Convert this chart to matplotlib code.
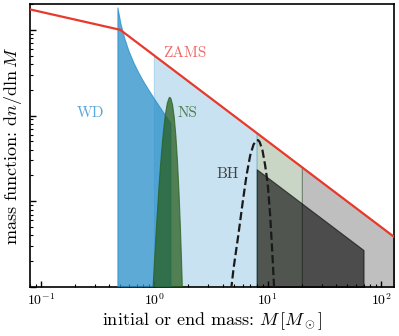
import numpy as np
import matplotlib
matplotlib.use("Agg")
import matplotlib.pyplot as plt

plt.rcParams['font.family'] = 'serif'
plt.rcParams['font.serif'] = ['cmr10']
plt.rcParams['mathtext.fontset'] = 'cm'
plt.rcParams['axes.formatter.use_mathtext'] = True
plt.rcParams['axes.linewidth'] = 1.2

# ---- data ----
zams_M = [0.08, 0.5, 130.0]
zams_y = [173.0, 100.0, 0.385]

wd_M = [0.477, 0.507, 0.550, 0.596, 0.660, 0.730, 0.808, 0.894, 0.990, 1.141, 1.263, 1.398]
wd_y = [180.0, 117.0, 78.1, 56.6, 41.0, 31.3, 24.6, 19.8, 16.0, 12.07, 9.86, 8.11]

ns_M = [0.95, 1.00, 1.05, 1.10, 1.15, 1.20, 1.25, 1.30, 1.35, 1.37, 1.40, 1.45,
        1.50, 1.55, 1.60, 1.65, 1.70, 1.75, 1.80]
ns_y = [0.053, 0.19, 0.58, 1.52, 3.38, 6.37, 10.2, 13.9, 16.1, 16.3, 15.8, 13.2,
        9.4, 5.68, 2.92, 1.27, 0.47, 0.15, 0.04]

ns_prog_M = [1.0, 8.0]        # light blue
ns_prog_y = [50.0, 6.25]
bh_prog1_M = [8.0, 20.0]      # light green
bh_prog1_y = [6.25, 2.5]
bh_prog2_M = [20.0, 130.0]    # light gray
bh_prog2_y = [2.5, 0.385]
bh_M = [8.0, 70.0]            # dark BH region
bh_y = [2.36, 0.27]

bhc_M = [4.5, 5.0, 5.5, 6.0, 6.5, 7.0, 7.5, 8.0, 8.25, 8.5, 9.0, 9.5, 10.0, 10.5, 11.0, 11.5, 12.0]
bhc_y = [0.049, 0.166, 0.40, 0.95, 2.0, 3.41, 4.60, 5.17, 5.15, 4.90, 3.90, 2.6, 1.6, 0.70, 0.24, 0.075, 0.018]

floor = 1e-3
blue = (39/255, 142/255, 202/255)
green = (40/255, 95/255, 30/255)

fig = plt.figure(figsize=(3.99, 3.36), dpi=100)
ax = fig.add_axes([30/399, 49/336, 364/399, 283/336])
ax.set_xscale('log')
ax.set_yscale('log')

ax.fill_between(ns_prog_M, floor, ns_prog_y, facecolor=blue, edgecolor=blue, alpha=0.25, lw=0.8, zorder=1)
ax.fill_between(bh_prog1_M, floor, bh_prog1_y, facecolor=green, edgecolor=green, alpha=0.25, lw=0.8, zorder=1)
ax.fill_between(bh_prog2_M, floor, bh_prog2_y, facecolor='k', edgecolor='k', alpha=0.25, lw=0.8, zorder=1)
ax.fill_between(bh_M, floor, bh_y, facecolor='k', edgecolor='k', alpha=0.6, lw=0.8, zorder=2)
ax.fill_between(wd_M, floor, wd_y, facecolor=blue, edgecolor=blue, alpha=0.75, lw=0.8, zorder=3)
ax.fill_between(ns_M, floor, ns_y, facecolor=green, edgecolor=green, alpha=0.75, lw=0.8, zorder=4)
ax.plot(bhc_M, bhc_y, ls='--', color='#1a1a1a', lw=1.6, zorder=5)
ax.plot(zams_M, zams_y, color='#e8392b', lw=1.6, zorder=6)

ax.text((163-30)/364, (287-57)/283, 'ZAMS', transform=ax.transAxes,
        color='#f06a6a', fontsize=11, ha='left', va='baseline')
ax.text((77-30)/364, (287-117)/283, 'WD', transform=ax.transAxes,
        color='#5ba8d8', fontsize=11, ha='left', va='baseline')
ax.text((178-30)/364, (287-117)/283, 'NS', transform=ax.transAxes,
        color='#4a7d4a', fontsize=11, ha='left', va='baseline')
ax.text((216.7-30)/364, (287-178.3)/283, 'BH', transform=ax.transAxes,
        color='#404040', fontsize=11, ha='left', va='baseline')

ax.set_xlim(0.08, 130)
ax.set_ylim(0.1, 200)
ax.tick_params(which='both', direction='in', top=False, right=False, labelsize=10)
ax.tick_params(which='major', length=4, width=1)
ax.tick_params(which='minor', length=2.3, width=0.8)
ax.tick_params(axis='y', which='both', labelleft=False)

ax.set_xlabel(r'initial or end mass: $M\,[M_\odot]$', fontsize=13, labelpad=2)
ax.set_ylabel(r'mass function: $\mathrm{d}n/\mathrm{d}\ln M$', fontsize=13, labelpad=4)

fig.savefig('out.png', dpi=100)
